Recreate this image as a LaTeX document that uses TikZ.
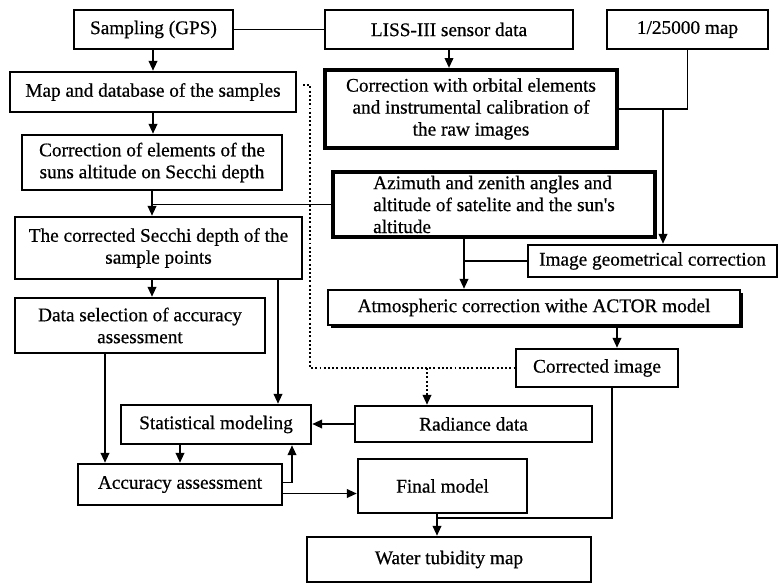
\documentclass[tikz,border=0pt]{standalone}
\usepackage{fontspec}
\setmainfont{Liberation Serif}
\newfontfamily\heavyserif{Liberation Serif}[FakeBold=0.6]
\usetikzlibrary{arrows.meta,calc,shadows}
\begin{document}
\begin{tikzpicture}[x=0.025cm,y=-0.025cm,
  every node/.style={align=center,font=\heavyserif\fontsize{13.7}{15.6}\selectfont},
  sz/.style 2 args={minimum width=#1*0.025cm,minimum height=#2*0.025cm},
  box/.style={draw,fill=white,line width=1.7pt,inner sep=0pt},
  heavybox/.style={box,line width=2.9pt},
  shadebox/.style={box,drop shadow={shadow xshift=1.9pt,shadow yshift=-1.9pt,fill=black,opacity=1}},
  link/.style={line width=1.4pt},
  arr/.style={link,-{Triangle[length=7pt,width=6pt]}},
  dots/.style={link,dash pattern=on 1.4pt off 1.6pt}]
\useasboundingbox (0,0) rectangle (780,584);
% upper row
\node[box,sz={159}{39}] (gps) at (153.5,29.5) {Sampling (GPS)};
\node[box,sz={248}{39}] (liss) at (449,29.5) {LISS-III sensor data};
\node[box,sz={161}{39}] (map25) at (687.5,29.5) {1/25000 map};
% samples branch
\node[box,sz={286}{40}] (mapdb) at (153,92) {Map and database of the samples};
\node[box,sz={260}{55}] (sunalt) at (152,162.5) {Correction of elements of the\\suns altitude on Secchi depth};
\node[box,sz={287}{62}] (secchi) at (158.5,248) {The corrected Secchi depth of the\\sample points};
\node[box,sz={250}{55}] (datasel) at (140,325.5) {Data selection of accuracy\\assessment};
\node[box,sz={190}{39}] (stat) at (216,424.5) {Statistical modeling};
\node[box,sz={204}{41}] (accur) at (180,484.5) {Accuracy assessment};
% image branch
\node[heavybox,sz={292}{78}] (orbit) at (471,109) {Correction with orbital elements\\and instrumental calibration of\\the raw images};
\node[heavybox,sz={322}{65},align=left] (azim) at (494,204.5) {Azimuth and zenith angles and\\altitude of satelite and the sun's\\altitude};
\node[box,sz={249}{32}] (geom) at (652.5,261) {Image geometrical correction};
\node[shadebox,sz={412}{35}] (atmos) at (534,307.5) {Atmospheric correction withe ACTOR model};
\node[box,sz={162}{38}] (corrimg) at (597,368) {Corrected image};
\node[box,sz={237}{36}] (radiance) at (473.5,424) {Radiance data};
\node[box,sz={169}{54}] (final) at (442.5,486) {Final model};
\node[box,sz={284}{45}] (water) at (449,559.5) {Water tubidity map};
% junctions
\coordinate (jgeo) at (663,109);
\coordinate (jatm) at (464,258);
\coordinate (jimg) at (617,330);
\coordinate (jst) at (278,300);
\coordinate (jds) at (105,400);
\coordinate (jfb) at (292,450);
\coordinate (dstart) at (303,85);
\coordinate (dturn) at (310,368);
\coordinate (drad) at (427,368);
\coordinate (jcw) at (612,518);
\coordinate (jwat) at (437,518);
\coordinate (afb) at ($(accur.east)+(0,-2)$);
\coordinate (afin) at ($(accur.east)+(0,9)$);
% connectors
\draw[link] (gps.east) -- (liss.west);
\draw[arr] (gps.south -| mapdb.north) -- (mapdb.north);
\draw[arr] (liss.south) -- (liss.south |- orbit.north);
\draw[arr] (mapdb.south) -- (mapdb.south |- sunalt.north);
\draw[link] (map25.south) |- (orbit.east);
\draw[arr] (jgeo) -- (jgeo |- geom.north);
\draw[link] (azim.west) -- (azim.west -| sunalt.south);
\draw[arr] (sunalt.south) -- (sunalt.south |- secchi.north);
\draw[link] (geom.west) -- (geom.west -| jatm);
\draw[arr] (jatm |- azim.south) -- (jatm |- atmos.north);
\draw[arr] (jimg |- atmos.south) -- (jimg |- corrimg.north);
\draw[arr] (secchi.south -| sunalt.south) -- (datasel.north -| sunalt.south);
\draw[arr] (jst |- secchi.south) -- (jst |- stat.north);
\draw[arr] (jds |- datasel.south) -- (jds |- accur.north);
\draw[arr] (radiance.west) -- (radiance.west -| stat.east);
\draw[arr] (accur.north |- stat.south) -- (accur.north);
\draw[arr] (afb) -| (jfb |- stat.south);
\draw[arr] (afin) -- (afin -| final.west);
\draw[link] (jcw |- corrimg.south) -- (jcw) -- (jwat);
\draw[arr] (jwat |- final.south) -- (jwat |- water.north);
\draw[dots] (dstart) -| (dturn) -- (corrimg.west);
\draw[dots,-{Triangle[length=7pt,width=6pt]}] (drad) -- (drad |- radiance.north);
\end{tikzpicture}
\end{document}
